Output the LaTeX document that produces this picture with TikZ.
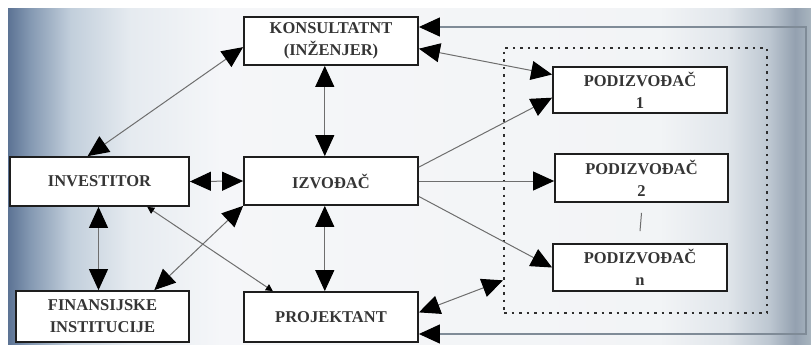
\documentclass[tikz,border=0pt]{standalone}
\usepackage{fontspec}
\setmainfont{Liberation Serif}
\usetikzlibrary{arrows.meta,calc}
\pgfdeclarehorizontalshading{bgshade}{100bp}{rgb(0bp)=(0.36,0.45,0.58); rgb(25bp)=(0.36,0.45,0.58); rgb(26.4bp)=(0.52,0.60,0.70); rgb(28.9bp)=(0.76,0.81,0.86); rgb(32.6bp)=(0.90,0.92,0.94); rgb(38.2bp)=(0.96,0.965,0.975); rgb(65.5bp)=(0.95,0.957,0.965); rgb(69.8bp)=(0.88,0.90,0.92); rgb(72.4bp)=(0.74,0.78,0.82); rgb(74bp)=(0.58,0.63,0.69); rgb(75bp)=(0.66,0.71,0.75); rgb(100bp)=(0.66,0.71,0.75)}
\definecolor{boxcol}{HTML}{1E1E1E}
\definecolor{txtcol}{HTML}{353535}
\definecolor{lncol}{HTML}{6E6E6E}
\definecolor{outcol}{HTML}{7F8B97}
\definecolor{dotcol}{HTML}{2E2E2E}
\tikzset{
  box/.style={rectangle, draw=boxcol, line width=1.8pt, fill=white, align=center,
    font=\fontsize{16.5}{22}\selectfont\bfseries, text=txtcol, inner sep=0pt},
  dbl/.style={draw=lncol, line width=1pt,
    arrows={Triangle[length=21pt,width=19pt,color=black]-Triangle[length=21pt,width=19pt,color=black]}},
  sgl/.style={draw=lncol, line width=1pt,
    arrows={-Triangle[length=21pt,width=19pt,color=black]}},
  dblsmall/.style={draw=lncol, line width=1pt,
    arrows={Triangle[length=7pt,width=7pt,color=black]-Triangle[length=7pt,width=7pt,color=black]}},
  outer/.style={draw=outcol, line width=1.2pt,
    arrows={Triangle[length=21pt,width=19pt,color=black]-Triangle[length=21pt,width=19pt,color=black]}},
  group/.style={rectangle, draw=dotcol, line width=2pt, dash pattern=on 2.5pt off 5pt, inner sep=0pt}
}
\begin{document}
\begin{tikzpicture}[x=1pt,y=-1pt]
\useasboundingbox (0,0) rectangle (811,345);
\fill[white] (0,0) rectangle (811,345);
\shade[shading=bgshade] (8,9) rectangle (811,345);

% group frame
\node[group, minimum width=263pt, minimum height=265pt] (grp) at (635.5,180.5) {};

% nodes
\node[box, minimum width=174pt, minimum height=48pt] (kons) at (331,41) {KONSULTATNT\\(INŽENJER)};
\node[box, minimum width=179pt, minimum height=49pt] (inv) at (99.5,181.5) {INVESTITOR};
\node[box, minimum width=174pt, minimum height=48pt] (izv) at (331,181) {IZVOĐAČ};
\node[box, minimum width=173pt, minimum height=51pt] (fin) at (102.5,316.5) {FINANSIJSKE\\INSTITUCIJE};
\node[box, minimum width=174pt, minimum height=50pt] (proj) at (331,317) {PROJEKTANT};
\node[box, minimum width=174pt, minimum height=46pt] (p1) at (640,90) {PODIZVOĐAČ\\1};
\node[box, minimum width=173pt, minimum height=48pt] (p2) at (641.5,178) {PODIZVOĐAČ\\2};
\node[box, minimum width=174pt, minimum height=47pt] (pn) at (640,267.5) {PODIZVOĐAČ\\n};

\coordinate (otr) at (806,27);
\coordinate (obr) at (806,334);

% connectors
\draw[dbl] (kons.184.6) -- (inv.115);
\draw[dbl] (kons.256) -- (kons.256 |- izv.north);
\draw[dbl] (kons.-5.9) -- (p1.170);
\draw[outer] (kons.east |- otr) -- (otr) -- (obr) -- (proj.east |- obr);
\draw[dbl] (inv.east) -- (izv.west);
\draw[dbl] (inv.south -| fin.north) ++(-4,0) coordinate (ia) (ia) -- (ia |- fin.north);
\draw[dblsmall] (inv.-28.3) -- (proj.156.3);
\draw[dbl] (izv.south west) -- (fin.27.3);
\draw[dbl] (izv.256) -- (izv.256 |- proj.north);
\draw[sgl] (izv.9.1) -- (p1.185.3);
\draw[sgl] (izv.east) -- (izv.east -| p2.west);
\draw[sgl] (izv.-10.4) -- (pn.west);
\draw[dbl] (proj.3.3) -- (grp.217.7);
\draw[lncol, line width=1pt] ($(p2.south)+(0,10)$) -- ($(pn.north)+(0,-12)$);
\end{tikzpicture}
\end{document}
